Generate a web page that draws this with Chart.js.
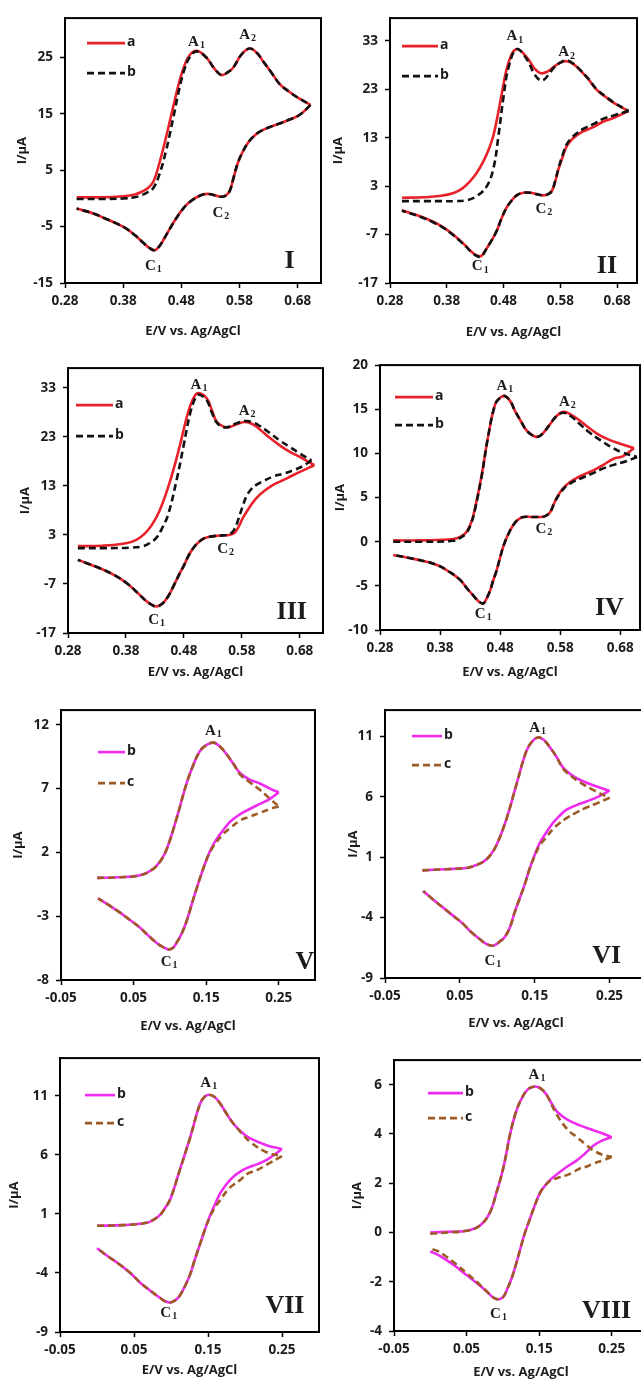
<!DOCTYPE html>
<html>
<head>
<meta charset="utf-8">
<script src="https://cdn.jsdelivr.net/npm/chart.js@4.4.1/dist/chart.umd.min.js"></script>
<style>
html,body{margin:0;padding:0;background:#fff;}
body{width:641px;height:1382px;overflow:hidden;position:relative;}
canvas{position:absolute;}
</style>
</head>
<body>
<canvas id="c1"></canvas><canvas id="c2"></canvas>
<canvas id="c3"></canvas><canvas id="c4"></canvas>
<canvas id="c5"></canvas><canvas id="c6"></canvas>
<canvas id="c7"></canvas><canvas id="c8"></canvas>
<script>
// ---------- tick labels ----------
const xTicksA = [0.28, 0.38, 0.48, 0.58, 0.68];
const xTicksB = [-0.05, 0.05, 0.15, 0.25];
const yTicks1 = [-15, -5, 5, 15, 25];
const yTicks2 = [-17, -7, 3, 13, 23, 33];
const yTicks3 = [-17, -7, 3, 13, 23, 33];
const yTicks4 = [-10, -5, 0, 5, 10, 15, 20];
const yTicks5 = [-8, -3, 2, 7, 12];
const yTicks6 = [-9, -4, 1, 6, 11];
const yTicks7 = [-9, -4, 1, 6, 11];
const yTicks8 = [-4, -2, 0, 2, 4, 6];

// ---------- series (E in V, I in µA; forward sweep then reverse sweep) ----------
// Panel I
const p1a_E = [0.300,0.340,0.380,0.400,0.412,0.422,0.432,0.442,0.454,0.466,0.477,0.485,0.494,0.506,0.523,0.537,0.549,0.560,0.569,0.583,0.597,0.610,0.620,0.635,0.649,0.666,0.683,0.702,
  0.683,0.666,0.649,0.630,0.614,0.602,0.594,0.585,0.577,0.570,0.563,0.556,0.549,0.540,0.527,0.517,0.508,0.500,0.490,0.480,0.470,0.460,0.450,0.442,0.434,0.424,0.414,0.400,0.386,0.370,0.352,0.330,0.300];
const p1a_I = [0.2,0.2,0.4,0.7,1.2,1.8,3.0,6.2,11.0,16.3,20.9,23.5,25.4,26.2,25.0,23.0,21.9,22.4,23.2,25.5,26.6,25.8,24.4,22.3,20.3,18.9,17.7,16.6,
  14.8,14.0,13.3,12.6,11.8,10.8,9.8,8.2,6.3,3.8,1.3,0.5,0.3,0.5,0.8,0.7,0.3,-0.2,-1.0,-2.2,-3.7,-5.4,-7.2,-8.5,-9.2,-8.7,-7.8,-6.5,-5.4,-4.5,-3.7,-2.7,-1.8];
const p1b_E = p1a_E;
const p1b_I = [-0.1,-0.1,0.0,0.2,0.6,1.1,1.9,4.2,8.6,14.3,19.7,22.8,25.0,26.1,25.0,23.0,21.9,22.4,23.2,25.5,26.6,25.8,24.4,22.3,20.3,18.9,17.7,16.6,
  14.8,14.0,13.3,12.6,11.8,10.8,9.8,8.2,6.3,3.8,1.3,0.5,0.3,0.5,0.8,0.7,0.3,-0.2,-1.0,-2.2,-3.7,-5.4,-7.2,-8.5,-9.2,-8.7,-7.8,-6.5,-5.4,-4.5,-3.7,-2.7,-1.8];

// Panel II
const p2a_E = [0.301,0.340,0.370,0.392,0.407,0.420,0.432,0.444,0.454,0.462,0.470,0.477,0.489,0.503,0.521,0.535,0.546,0.558,0.568,0.580,0.591,0.603,0.615,0.630,0.644,0.660,0.674,0.700,
  0.674,0.655,0.638,0.620,0.609,0.600,0.591,0.584,0.577,0.571,0.565,0.558,0.550,0.540,0.530,0.521,0.512,0.503,0.494,0.485,0.476,0.468,0.459,0.450,0.444,0.439,0.431,0.424,0.414,0.403,0.390,0.374,0.355,0.333,0.301];
const p2a_I = [0.6,0.7,1.0,1.6,2.5,3.9,5.6,8.0,10.6,13.4,17.8,22.2,28.6,31.3,29.6,27.2,26.3,26.7,27.6,28.5,28.8,28.2,26.9,25.0,22.9,21.4,20.2,18.5,
  17.1,16.3,15.2,14.3,13.5,12.6,11.2,9.0,6.6,4.0,2.0,1.3,1.1,1.3,1.6,1.7,1.6,1.1,0.0,-1.5,-3.8,-6.2,-8.2,-9.9,-11.0,-11.5,-11.2,-10.6,-9.4,-8.2,-6.9,-5.5,-4.3,-3.2,-2.0];
const p2b_E = [0.301,0.340,0.370,0.392,0.415,0.432,0.450,0.462,0.471,0.480,0.489,0.503,0.521,0.535,0.547,0.558,0.568,0.580,0.591,0.603,0.615,0.630,0.644,0.660,0.674,0.700,
  0.674,0.655,0.638,0.620,0.609,0.600,0.591,0.584,0.577,0.571,0.565,0.558,0.550,0.540,0.530,0.521,0.512,0.503,0.494,0.485,0.476,0.468,0.459,0.450,0.444,0.439,0.431,0.424,0.414,0.403,0.390,0.374,0.355,0.333,0.301];
const p2b_I = [-0.1,-0.1,-0.1,-0.1,0.1,0.9,2.9,6.6,13.4,21.5,27.6,31.3,29.2,26.0,24.8,25.8,27.4,28.5,29.0,28.3,27.0,25.1,23.0,21.5,20.3,18.5,
  17.6,16.9,15.8,14.8,13.9,13.0,11.6,9.4,6.8,4.1,2.0,1.3,1.1,1.3,1.6,1.7,1.6,1.1,0.0,-1.5,-3.8,-6.2,-8.2,-9.9,-11.1,-11.6,-11.3,-10.7,-9.5,-8.3,-7.0,-5.6,-4.4,-3.3,-2.1];

// Panel III
const p3a_E = [0.297,0.340,0.380,0.398,0.412,0.425,0.438,0.456,0.473,0.487,0.497,0.505,0.519,0.528,0.536,0.546,0.556,0.570,0.585,0.598,0.611,0.628,0.646,0.663,0.680,0.705,
  0.685,0.669,0.652,0.634,0.618,0.605,0.593,0.582,0.575,0.568,0.558,0.548,0.535,0.524,0.513,0.501,0.490,0.481,0.473,0.463,0.453,0.443,0.433,0.424,0.415,0.400,0.381,0.360,0.335,0.297];
const p3a_I = [0.7,0.8,1.3,2.0,3.2,5.1,7.9,13.9,21.2,27.9,31.0,31.9,30.9,28.5,26.2,25.2,24.9,25.5,26.0,25.6,24.5,22.8,21.2,19.9,18.9,17.2,
  16.1,15.2,14.2,13.2,11.9,10.5,8.6,6.5,4.8,3.5,3.0,2.9,2.8,2.6,2.2,1.0,-0.8,-3.0,-4.8,-7.2,-9.5,-11.0,-11.6,-11.2,-10.5,-8.8,-6.8,-5.2,-3.8,-2.1];
const p3b_E = [0.297,0.340,0.387,0.410,0.422,0.433,0.443,0.453,0.468,0.479,0.491,0.500,0.505,0.519,0.528,0.536,0.546,0.556,0.570,0.585,0.598,0.611,0.628,0.646,0.663,0.680,0.700,
  0.685,0.669,0.652,0.634,0.618,0.605,0.596,0.588,0.581,0.574,0.568,0.562,0.555,0.548,0.535,0.524,0.513,0.501,0.490,0.481,0.473,0.463,0.453,0.443,0.433,0.424,0.415,0.400,0.381,0.360,0.335,0.297];
const p3b_I = [0.3,0.3,0.4,0.7,1.4,2.5,4.5,7.2,14.5,20.9,27.9,31.0,31.6,30.5,28.0,26.0,25.0,25.0,25.7,26.2,26.0,25.2,23.8,22.2,20.9,19.6,18.2,
  17.0,16.2,15.5,14.9,14.0,13.2,12.3,10.9,8.7,6.2,4.3,3.4,3.0,2.9,2.8,2.6,2.2,1.0,-0.8,-3.0,-4.8,-7.2,-9.5,-11.0,-11.6,-11.2,-10.5,-8.8,-6.8,-5.2,-3.8,-2.1];

// Panel IV
const p4a_E = [0.302,0.350,0.402,0.415,0.424,0.432,0.438,0.449,0.460,0.472,0.480,0.488,0.497,0.505,0.515,0.524,0.535,0.544,0.553,0.563,0.575,0.586,0.598,0.613,0.630,0.647,0.663,0.680,0.703,
  0.685,0.669,0.652,0.636,0.619,0.602,0.590,0.580,0.571,0.563,0.555,0.547,0.533,0.519,0.510,0.502,0.494,0.486,0.480,0.474,0.468,0.463,0.457,0.452,0.445,0.438,0.425,0.413,0.395,0.374,0.340,0.302];
const p4a_I = [0.15,0.15,0.3,0.6,1.1,2.2,3.7,7.4,11.9,15.6,16.3,16.5,15.9,14.8,13.6,12.6,12.0,11.9,12.4,13.3,14.3,14.7,14.4,13.7,12.8,12.0,11.5,11.1,10.6,
  9.7,9.4,8.7,8.1,7.6,7.0,6.4,5.6,4.5,3.3,2.9,2.8,2.8,2.8,2.5,1.9,0.9,-0.4,-1.8,-3.3,-4.5,-5.6,-6.5,-7.0,-6.8,-6.3,-5.3,-4.3,-3.4,-2.6,-2.0,-1.5];
const p4b_E = [0.302,0.350,0.402,0.415,0.424,0.432,0.438,0.449,0.460,0.472,0.480,0.488,0.497,0.505,0.515,0.524,0.535,0.544,0.553,0.563,0.575,0.586,0.598,0.613,0.630,0.647,0.663,0.680,0.708,
  0.690,0.669,0.652,0.636,0.619,0.602,0.590,0.580,0.571,0.563,0.555,0.547,0.533,0.519,0.510,0.502,0.494,0.486,0.480,0.474,0.468,0.463,0.457,0.452,0.445,0.438,0.425,0.413,0.395,0.374,0.340,0.302];
const p4b_I = [0.0,0.0,0.1,0.5,1.0,2.1,3.6,7.3,11.9,15.6,16.3,16.5,15.9,14.8,13.6,12.6,12.0,11.9,12.4,13.3,14.3,14.6,14.2,13.3,12.3,11.5,10.8,10.2,9.6,
  9.1,8.7,8.3,7.8,7.3,6.8,6.3,5.5,4.5,3.3,2.9,2.8,2.8,2.8,2.5,1.9,0.9,-0.4,-1.8,-3.3,-4.5,-5.6,-6.5,-7.0,-6.8,-6.3,-5.3,-4.3,-3.4,-2.6,-2.0,-1.5];

// Panel V
const p5b_E = [0.000,0.030,0.059,0.077,0.088,0.096,0.109,0.123,0.132,0.141,0.150,0.160,0.169,0.178,0.188,0.197,0.210,0.224,0.238,0.250,
  0.238,0.224,0.210,0.197,0.183,0.173,0.164,0.157,0.151,0.144,0.137,0.130,0.123,0.116,0.109,0.104,0.098,0.090,0.082,0.070,0.059,0.045,0.031,0.015,0.001];
const p5b_I = [0.0,0.05,0.2,0.7,1.4,2.3,4.6,7.4,8.8,9.9,10.4,10.6,10.3,9.7,8.9,8.2,7.7,7.4,7.0,6.7,
  6.2,5.8,5.4,5.0,4.4,3.7,3.0,2.3,1.5,0.4,-0.8,-2.1,-3.4,-4.4,-5.1,-5.5,-5.6,-5.4,-5.1,-4.5,-3.9,-3.3,-2.7,-2.1,-1.6];
const p5c_E = p5b_E;
const p5c_I = [0.0,0.05,0.2,0.7,1.4,2.3,4.6,7.4,8.8,9.9,10.4,10.6,10.3,9.7,8.9,8.1,7.5,6.9,6.2,5.6,
  5.4,5.1,4.8,4.5,3.9,3.4,2.8,2.2,1.5,0.4,-0.8,-2.1,-3.4,-4.4,-5.1,-5.5,-5.6,-5.4,-5.1,-4.5,-3.9,-3.3,-2.7,-2.1,-1.6];

// Panel VI
const p6b_E = [0.000,0.030,0.059,0.070,0.081,0.090,0.099,0.112,0.126,0.139,0.147,0.154,0.162,0.170,0.179,0.188,0.199,0.210,0.230,0.250,
  0.235,0.219,0.206,0.192,0.183,0.174,0.165,0.157,0.150,0.143,0.137,0.130,0.123,0.117,0.110,0.103,0.096,0.090,0.083,0.077,0.065,0.054,0.040,0.028,0.014,0.001];
const p6b_I = [-0.1,0.0,0.1,0.3,0.6,1.1,2.0,4.1,7.1,9.8,10.6,10.9,10.7,10.1,9.3,8.4,7.8,7.4,6.9,6.5,
  6.0,5.6,5.3,4.9,4.4,3.8,3.0,2.2,1.2,0.0,-1.2,-2.4,-3.6,-4.8,-5.6,-6.0,-6.3,-6.3,-6.1,-5.8,-5.2,-4.5,-3.8,-3.2,-2.5,-1.8];
const p6c_E = p6b_E;
const p6c_I = [-0.1,0.0,0.1,0.3,0.6,1.1,2.0,4.1,7.1,9.8,10.6,10.9,10.7,10.1,9.3,8.3,7.7,7.2,6.5,5.9,
  5.5,5.1,4.7,4.2,3.8,3.3,2.6,2.0,1.1,0.0,-1.2,-2.4,-3.6,-4.8,-5.6,-6.0,-6.3,-6.3,-6.1,-5.8,-5.2,-4.5,-3.8,-3.2,-2.5,-1.8];

// Panel VII
const p7b_E = [0.000,0.035,0.067,0.076,0.085,0.092,0.099,0.112,0.126,0.139,0.145,0.151,0.159,0.167,0.176,0.185,0.196,0.207,0.230,0.250,
  0.230,0.216,0.203,0.194,0.185,0.176,0.167,0.160,0.153,0.146,0.139,0.132,0.126,0.119,0.112,0.106,0.099,0.092,0.085,0.072,0.058,0.045,0.031,0.015,0.000];
const p7b_I = [0.0,0.05,0.25,0.5,0.9,1.5,2.25,4.75,7.5,10.3,10.9,11.1,10.9,10.3,9.4,8.6,7.9,7.4,6.8,6.5,
  5.6,5.2,4.9,4.6,4.2,3.6,2.8,1.9,0.9,-0.3,-1.6,-2.9,-4.1,-5.1,-5.9,-6.3,-6.5,-6.4,-6.1,-5.5,-4.8,-4.0,-3.3,-2.6,-1.9];
const p7c_E = p7b_E;
const p7c_I = [0.0,0.05,0.25,0.5,0.9,1.5,2.25,4.75,7.5,10.3,10.9,11.1,10.9,10.3,9.4,8.6,7.8,7.1,6.2,5.9,
  5.2,4.7,4.4,3.9,3.5,3.0,2.2,1.6,0.8,-0.3,-1.6,-2.9,-4.1,-5.1,-5.9,-6.3,-6.5,-6.4,-6.1,-5.5,-4.8,-4.0,-3.3,-2.6,-1.9];

// Panel VIII
const p8b_E = [0.000,0.025,0.050,0.068,0.082,0.091,0.101,0.110,0.117,0.124,0.134,0.144,0.152,0.160,0.167,0.174,0.183,0.192,0.206,0.220,0.235,0.250,
  0.238,0.225,0.213,0.202,0.190,0.179,0.165,0.158,0.151,0.144,0.137,0.130,0.124,0.118,0.112,0.106,0.101,0.096,0.091,0.085,0.078,0.064,0.050,0.036,0.023,0.010,0.000];
const p8b_I = [0.0,0.03,0.07,0.27,0.8,1.6,2.67,4.0,4.8,5.33,5.8,5.93,5.85,5.6,5.25,4.93,4.7,4.53,4.35,4.2,4.05,3.87,
  3.75,3.53,3.2,2.93,2.7,2.47,2.13,1.9,1.6,1.1,0.53,-0.05,-0.67,-1.3,-1.87,-2.3,-2.6,-2.7,-2.7,-2.6,-2.4,-2.05,-1.73,-1.4,-1.13,-0.9,-0.77];
const p8c_E = [0.000,0.025,0.050,0.068,0.082,0.091,0.101,0.110,0.117,0.124,0.134,0.144,0.152,0.160,0.167,0.174,0.183,0.192,0.202,0.213,0.225,0.238,0.250,
  0.240,0.225,0.213,0.206,0.197,0.188,0.179,0.165,0.158,0.151,0.144,0.137,0.130,0.124,0.118,0.112,0.106,0.101,0.096,0.091,0.085,0.078,0.064,0.050,0.036,0.023,0.010,0.000];
const p8c_I = [-0.05,0.0,0.07,0.27,0.8,1.6,2.67,4.0,4.8,5.33,5.8,5.93,5.85,5.6,5.2,4.8,4.4,4.1,3.87,3.6,3.33,3.15,3.07,
  2.95,2.8,2.65,2.6,2.45,2.33,2.25,2.1,1.9,1.6,1.1,0.53,-0.05,-0.67,-1.3,-1.87,-2.3,-2.6,-2.7,-2.7,-2.6,-2.4,-2.0,-1.65,-1.3,-1.0,-0.75,-0.67];

// ---------- styling ----------
const RED = '#e8212a', BLACK = '#111111', MAG = '#ee2bee', BROWN = '#9c5b24';
const DASH = [7, 4];
const TXT = '#1c1c1c';
const SANS = '"Open Sans"';
const SERIF = '"Liberation Serif"';
const AXW = 62, AXH = 62, PT = 10, PR = 6;

const sA = (E, I) => ({name:'a', E, I, color:RED, dash:null});
const sB = (E, I) => ({name:'b', E, I, color:BLACK, dash:DASH});
const sBm = (E, I) => ({name:'b', E, I, color:MAG, dash:null});
const sC = (E, I) => ({name:'c', E, I, color:BROWN, dash:DASH});

const panels = [
  {id:'c1', L:65, T:13, B:283, W:256, xMin:0.28, xMax:0.72, yMin:-15, yMax:32, xt:xTicksA, yt:yTicks1, yOff:43, xOff:48,
   leg:{x:22, y:25, dy:30, len:38}, series:[sA(p1a_E,p1a_I), sB(p1b_E,p1b_I)],
   peaks:[['A','1',0.506,27.8],['A','2',0.594,29.0],['C','2',0.548,-2.6],['C','1',0.432,-12.0]], num:['I',0.666,-11.1]},
  {id:'c2', L:390, T:13, B:283, W:247, xMin:0.28, xMax:0.715, yMin:-17, yMax:37.7, xt:xTicksA, yt:yTicks2, yOff:52, xOff:49,
   leg:{x:12, y:28, dy:30, len:36}, series:[sA(p2a_E,p2a_I), sB(p2b_E,p2b_I)],
   peaks:[['A','1',0.500,33.9],['A','2',0.591,30.6],['C','2',0.551,-1.8],['C','1',0.439,-13.6]], num:['II',0.662,-13.6]},
  {id:'c3', L:68, T:363, B:633, W:255, xMin:0.28, xMax:0.72, yMin:-17, yMax:37, xt:xTicksA, yt:yTicks3, yOff:43, xOff:39,
   leg:{x:8, y:37, dy:31, len:37}, series:[sA(p3a_E,p3a_I), sB(p3b_E,p3b_I)],
   peaks:[['A','1',0.506,33.6],['A','2',0.589,28.3],['C','2',0.552,0.1],['C','1',0.433,-14.3]], num:['III',0.666,-12.8]},
  {id:'c4', L:380, T:360, B:630, W:260, xMin:0.28, xMax:0.713, yMin:-10, yMax:20, xt:xTicksA, yt:yTicks4, yOff:40, xOff:42,
   leg:{x:15, y:32, dy:28, len:38}, series:[sA(p4a_E,p4a_I), sB(p4b_E,p4b_I)],
   peaks:[['A','1',0.488,17.6],['A','2',0.592,15.8],['C','2',0.553,1.4],['C','1',0.452,-8.2]], num:['IV',0.662,-7.5]},
  {id:'c5', L:61, T:705, B:980, W:254, xMin:-0.05, xMax:0.30, yMin:-8, yMax:13.15, xt:xTicksB, yt:yTicks5, yOff:43, xOff:46,
   leg:{x:37, y:42, dy:31, len:27}, series:[sBm(p5b_E,p5b_I), sC(p5c_E,p5c_I)],
   peaks:[['A','1',0.160,11.5],['C','1',0.099,-6.6]], num:['V',0.286,-6.6]},
  {id:'c6', L:385, T:705, B:978, W:262, xMin:-0.05, xMax:0.30, yMin:-9, yMax:13.16, xt:xTicksB, yt:yTicks6, yOff:32, xOff:45,
   leg:{x:27, y:26, dy:29, len:30}, series:[sBm(p6b_E,p6b_I), sC(p6c_E,p6c_I)],
   peaks:[['A','1',0.154,11.7],['C','1',0.094,-7.6]], num:['VI',0.246,-7.2]},
  {id:'c7', L:60, T:1053, B:1332, W:259, xMin:-0.05, xMax:0.30, yMin:-9, yMax:14.2, xt:xTicksB, yt:yTicks7, yOff:46, xOff:38,
   leg:{x:25, y:37, dy:28, len:30}, series:[sBm(p7b_E,p7b_I), sC(p7c_E,p7c_I)],
   peaks:[['A','1',0.151,12.1],['C','1',0.097,-7.4]], num:['VII',0.254,-6.8]},
  {id:'c8', L:394, T:1055, B:1331, W:254, xMin:-0.05, xMax:0.30, yMin:-4, yMax:7.0, xt:xTicksB, yt:yTicks8, yOff:37, xOff:41,
   leg:{x:34, y:33, dy:25, len:35}, series:[sBm(p8b_E,p8b_I), sC(p8c_E,p8c_I)],
   peaks:[['A','1',0.147,6.4],['C','1',0.094,-3.3]], num:['VIII',0.243,-3.2]}
];

function splitLoop(E, I) {
  let k = 0;
  for (let i = 1; i < E.length; i++) if (E[i] > E[k]) k = i;
  const fwd = [], rev = [];
  for (let i = 0; i <= k; i++) fwd.push({x:E[i], y:I[i]});
  for (let i = k; i < E.length; i++) rev.push({x:E[i], y:I[i]});
  return [fwd, rev];
}

function decor(p) {
  return {
    id: 'decor_' + p.id,
    afterDatasetsDraw(chart) {
      const {ctx, chartArea: a, scales: {x, y}} = chart;
      ctx.save();
      ctx.setLineDash([]);
      ctx.strokeStyle = '#000'; ctx.lineWidth = 2;
      ctx.strokeRect(a.left, a.top, a.right - a.left, a.bottom - a.top);
      p.series.forEach((s, i) => {
        const yy = a.top + p.leg.y + i * p.leg.dy;
        const x0 = a.left + p.leg.x;
        ctx.beginPath();
        ctx.setLineDash(s.dash || []);
        ctx.strokeStyle = s.color; ctx.lineWidth = 2.6;
        ctx.moveTo(x0, yy); ctx.lineTo(x0 + p.leg.len, yy); ctx.stroke();
        ctx.setLineDash([]);
        ctx.fillStyle = TXT; ctx.font = 'bold 14px ' + SANS;
        ctx.textBaseline = 'middle'; ctx.textAlign = 'left';
        ctx.fillText(s.name, x0 + p.leg.len + 2, yy - 1);
      });
      ctx.fillStyle = TXT;
      p.peaks.forEach(([m, sub, ex, iy]) => {
        const cx = x.getPixelForValue(ex), cy = y.getPixelForValue(iy);
        ctx.font = 'bold 15px ' + SERIF;
        const w1 = ctx.measureText(m).width;
        ctx.font = 'bold 10px ' + SERIF;
        const w2 = ctx.measureText(sub).width;
        const x0 = cx - (w1 + w2 + 1) / 2;
        ctx.textAlign = 'left'; ctx.textBaseline = 'middle';
        ctx.font = 'bold 15px ' + SERIF; ctx.fillText(m, x0, cy);
        ctx.font = 'bold 10px ' + SERIF; ctx.fillText(sub, x0 + w1 + 1, cy + 3.5);
      });
      ctx.font = 'bold 26px ' + SERIF;
      ctx.textAlign = 'center'; ctx.textBaseline = 'middle';
      ctx.fillText(p.num[0], x.getPixelForValue(p.num[1]), y.getPixelForValue(p.num[2]));
      ctx.restore();
    }
  };
}

panels.forEach(p => {
  const cv = document.getElementById(p.id);
  const w = AXW + p.W + PR, h = PT + (p.B - p.T) + AXH;
  cv.width = w; cv.height = h;
  cv.style.width = w + 'px'; cv.style.height = h + 'px';
  cv.style.left = (p.L - AXW) + 'px'; cv.style.top = (p.T - PT) + 'px';

  const datasets = [];
  p.series.forEach(s => {
    splitLoop(s.E, s.I).forEach(part => {
      datasets.push({
        label: s.name, data: part, showLine: true,
        borderColor: s.color, backgroundColor: s.color,
        borderWidth: 2.6, borderDash: s.dash || [],
        pointRadius: 0, pointHoverRadius: 0,
        tension: 0.4, fill: false,
        order: s.dash ? 1 : 2
      });
    });
  });

  const tickFont = {family: SANS, weight: 'bold', size: 13.5};
  const titleFont = {family: SANS, weight: 'bold', size: 13};

  new Chart(cv, {
    type: 'scatter',
    data: {datasets},
    options: {
      responsive: false, animation: false, devicePixelRatio: 1,
      layout: {padding: {left: 0, top: PT, right: PR, bottom: 0}},
      plugins: {legend: {display: false}, tooltip: {enabled: false}},
      scales: {
        x: {
          type: 'linear', position: 'bottom', min: p.xMin, max: p.xMax,
          afterBuildTicks: sc => { sc.ticks = p.xt.map(v => ({value: v})); },
          afterFit: sc => { sc.height = AXH; },
          ticks: {font: tickFont, color: TXT, padding: 5, maxRotation: 0, autoSkip: false,
                  callback: v => Number(v).toFixed(2)},
          grid: {display: true, drawOnChartArea: false, drawTicks: true, tickLength: 5, tickWidth: 1.5, color: '#000'},
          border: {display: true, color: '#000', width: 2},
          title: {display: true, text: 'E/V vs. Ag/AgCl', font: titleFont, color: TXT,
                  padding: {top: 0, bottom: Math.max(0, 54.2 - p.xOff)}}
        },
        y: {
          type: 'linear', position: 'left', min: p.yMin, max: p.yMax,
          afterBuildTicks: sc => { sc.ticks = p.yt.map(v => ({value: v})); },
          afterFit: sc => { sc.width = AXW; },
          ticks: {font: tickFont, color: TXT, padding: 7, autoSkip: false,
                  callback: v => String(v)},
          grid: {display: true, drawOnChartArea: false, drawTicks: true, tickLength: 5, tickWidth: 1.5, color: '#000'},
          border: {display: true, color: '#000', width: 2},
          title: {display: true, text: 'I/μA', font: titleFont, color: TXT,
                  padding: {top: Math.max(0, 54.2 - p.yOff), bottom: 0}}
        }
      }
    },
    plugins: [decor(p)]
  });
});
</script>
</body>
</html>
